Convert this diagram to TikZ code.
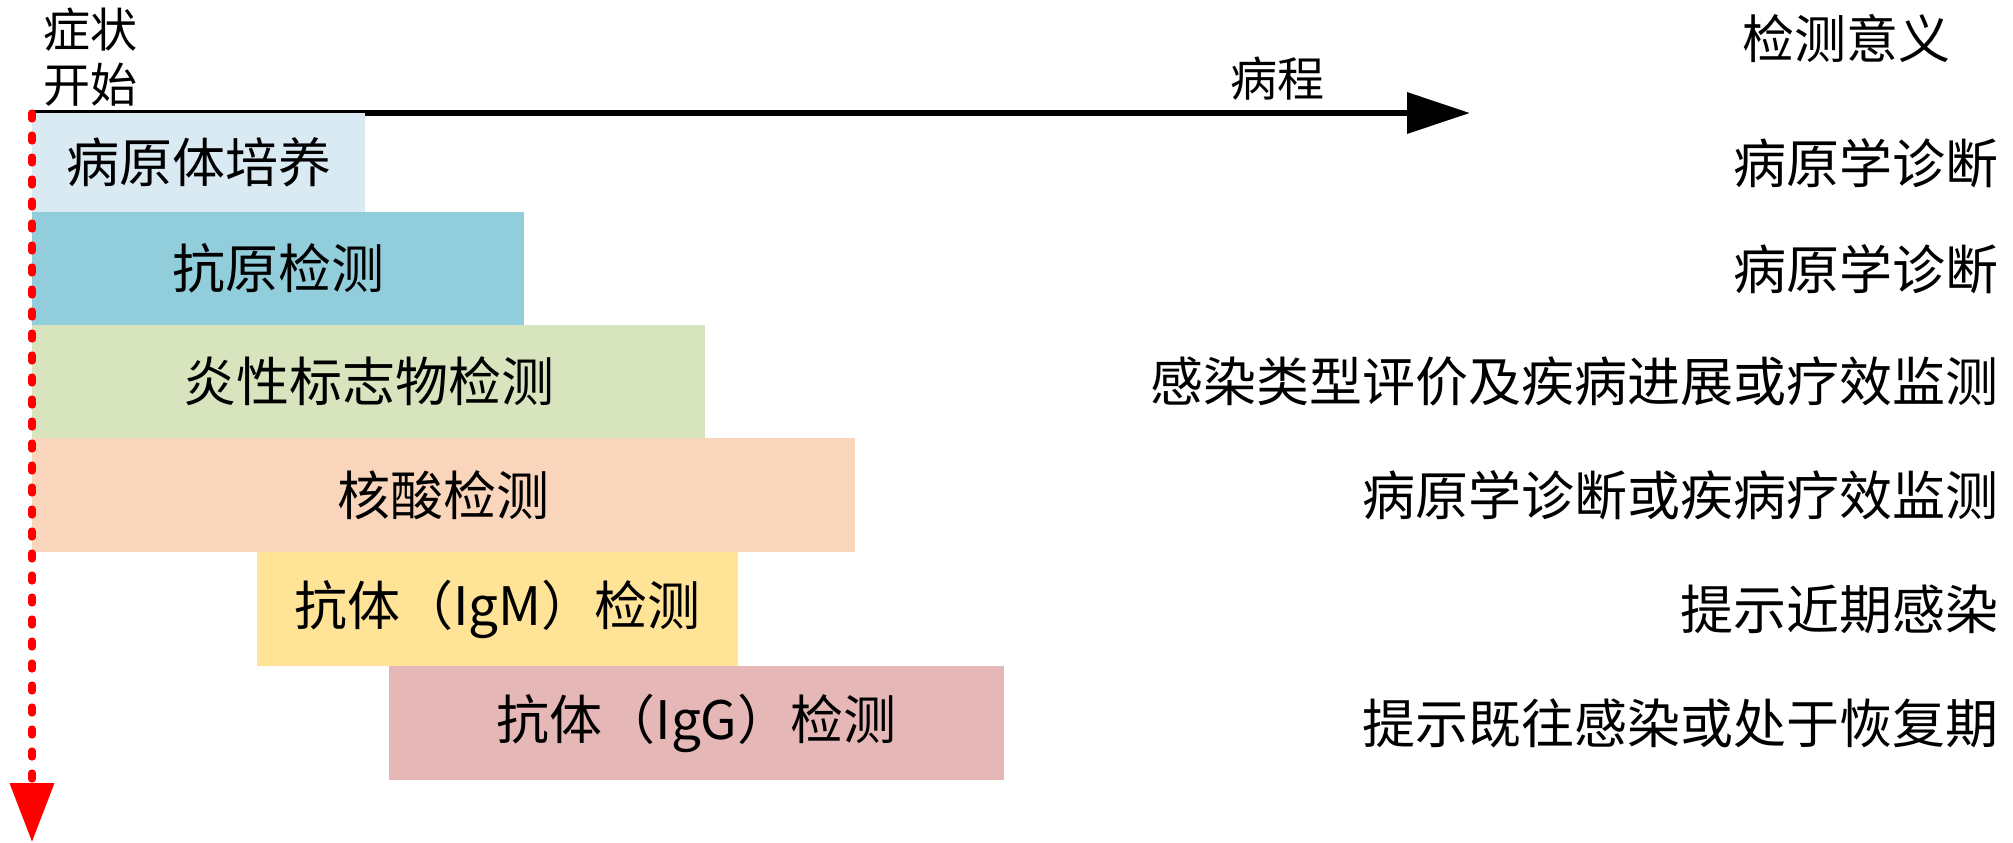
\documentclass[tikz,border=0pt]{standalone}
\usepackage{fontspec}
\setmainfont{Noto Sans CJK SC}
\usetikzlibrary{arrows.meta}
\definecolor{cA}{HTML}{DAEAF2}
\definecolor{cB}{HTML}{92CDDC}
\definecolor{cC}{HTML}{D7E4BD}
\definecolor{cD}{HTML}{F9D6BB}
\definecolor{cE}{HTML}{FFE497}
\definecolor{cF}{HTML}{E5B8B7}
\definecolor{redline}{HTML}{FF0000}
\tikzset{
  rowbox/.style={anchor=north west, inner sep=0pt, outer sep=0pt, text=black,
    font=\fontsize{26.5}{30}\selectfont},
  rtext/.style={anchor=east, inner sep=0pt, font=\fontsize{26.5}{30}\selectfont},
  smalltext/.style={inner sep=0pt, font=\fontsize{23.5}{27.5}\selectfont},
}
\begin{document}
\begin{tikzpicture}[x=0.5pt,y=-0.5pt]
\useasboundingbox (0,0) rectangle (2013,842);
% axis
\coordinate (o) at (32,113);
\coordinate (axend) at (1470,113);
\draw[line width=3.3pt, -{Triangle[width=20pt,length=31.5pt]}] (o) -- (axend);
\node[smalltext] (bingcheng) at (1277,79) {病程};
\node[smalltext, anchor=north west, align=left] (start) at (43,8) {症状\\开始};
\node[font=\fontsize{26}{30}\selectfont, inner sep=0pt] (yiyi) at (1846,38) {检测意义};
% boxes
\node[rowbox, fill=cA, minimum width=166.5pt, minimum height=49.5pt] (b1) at (32,113) {病原体培养};
\node[rowbox, fill=cB, minimum width=246pt, minimum height=56.5pt] (b2) at (32,212) {抗原检测};
\node[rowbox, fill=cC, minimum width=336.5pt, minimum height=56.5pt] (b3) at (32,325) {炎性标志物检测};
\node[rowbox, fill=cD, minimum width=411.5pt, minimum height=57pt] (b4) at (32,438) {核酸检测};
\node[rowbox, fill=cE, minimum width=240.5pt, minimum height=57pt] (b5) at (257,552) {抗体（IgM）检测};
\node[rowbox, fill=cF, minimum width=307.5pt, minimum height=57pt] (b6) at (389,666) {抗体（IgG）检测};
% right column
\node[rtext] (r1) at (1999,163) {病原学诊断};
\node[rtext] (r2) at (1999,269) {病原学诊断};
\node[rtext] (r3) at (1999,381) {感染类型评价及疾病进展或疗效监测};
\node[rtext] (r4) at (1999,495) {病原学诊断或疾病疗效监测};
\node[rtext] (r5) at (1999,609) {提示近期感染};
\node[rtext] (r6) at (1999,723) {提示既往感染或处于恢复期};
% red time arrow
\coordinate (rtop) at (32,113);
\coordinate (rbot) at (32,842);
\draw[redline, line width=3.6pt, line cap=round, dash pattern=on 3pt off 8pt,
  -{Triangle[width=21.5pt,length=29.5pt]}] (rtop) -- (rbot);
\end{tikzpicture}
\end{document}
